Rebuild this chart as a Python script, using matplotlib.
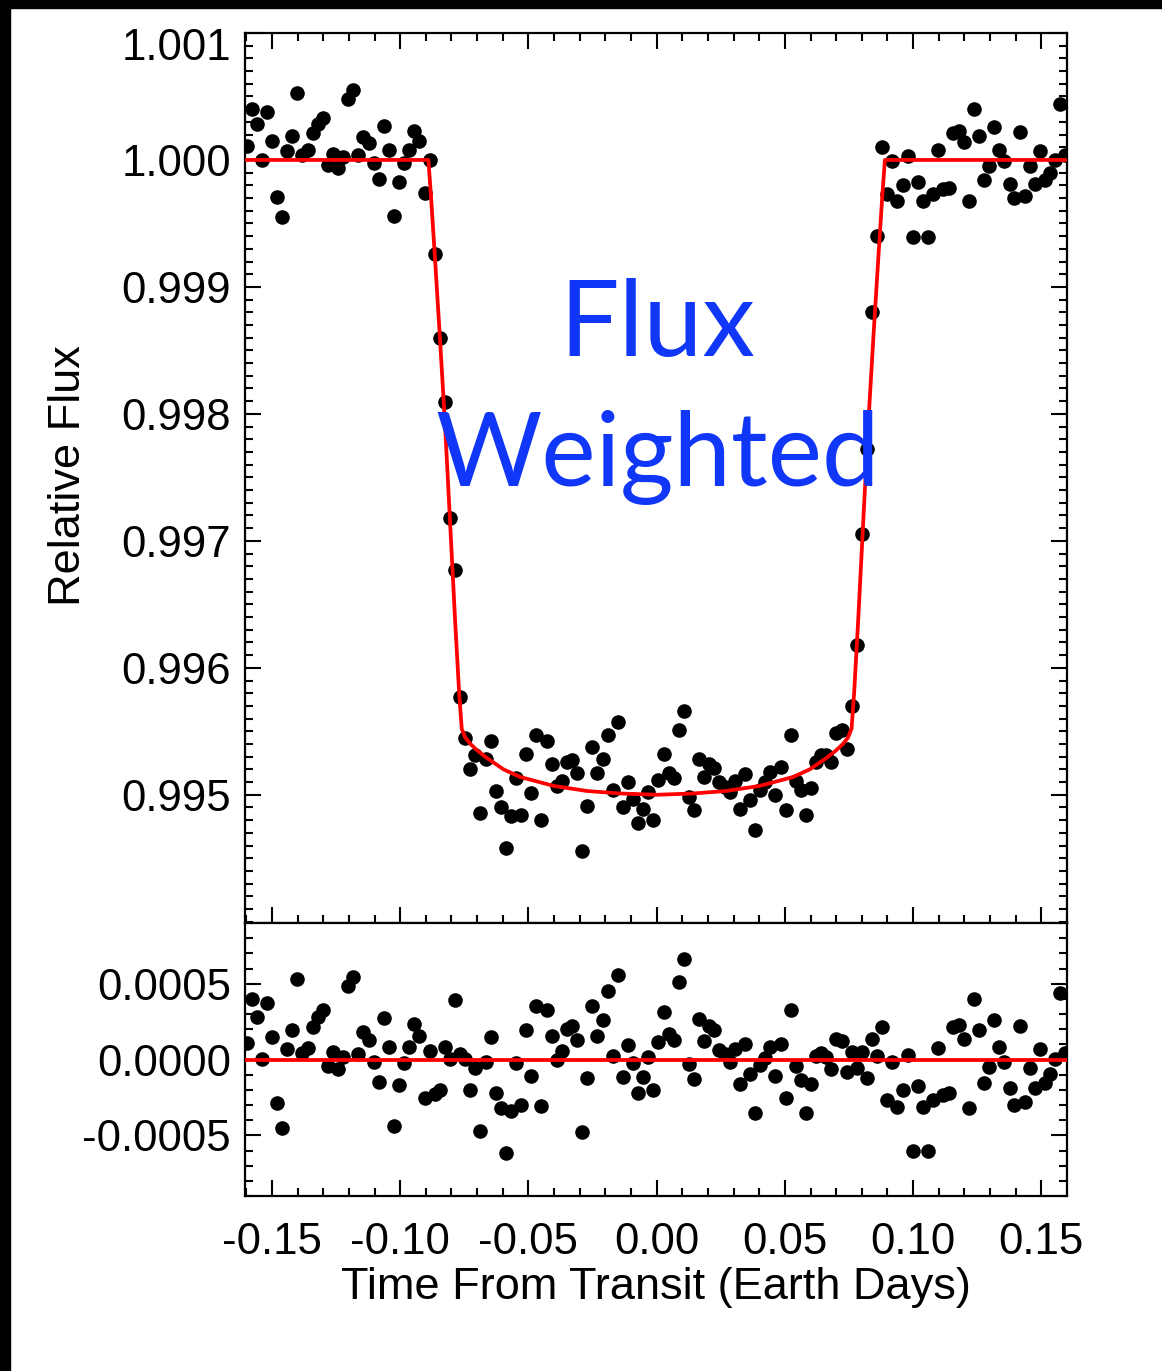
import matplotlib
matplotlib.use("Agg")
import matplotlib.pyplot as plt
import matplotlib.transforms as mtransforms
from matplotlib.patches import Rectangle
from matplotlib.ticker import MultipleLocator, FixedLocator, FixedFormatter
import numpy as np

# time from mid transit (days), one value per binned point
time = [
    -0.1599, -0.1579, -0.1559, -0.1540, -0.1520, -0.1500, -0.1480, -0.1460, -0.1440, -0.1421,
    -0.1401, -0.1381, -0.1361, -0.1341, -0.1321, -0.1302, -0.1282, -0.1262, -0.1242, -0.1222,
    -0.1202, -0.1183, -0.1163, -0.1143, -0.1123, -0.1103, -0.1083, -0.1064, -0.1044, -0.1024,
    -0.1004, -0.0984, -0.0964, -0.0945, -0.0925, -0.0905, -0.0885, -0.0865, -0.0845, -0.0826,
    -0.0806, -0.0786, -0.0766, -0.0746, -0.0726, -0.0707, -0.0687, -0.0667, -0.0647, -0.0627,
    -0.0608, -0.0588, -0.0568, -0.0548, -0.0528, -0.0508, -0.0489, -0.0469, -0.0449, -0.0429,
    -0.0409, -0.0389, -0.0370, -0.0350, -0.0330, -0.0310, -0.0290, -0.0270, -0.0251, -0.0231,
    -0.0211, -0.0191, -0.0171, -0.0151, -0.0132, -0.0112, -0.0092, -0.0072, -0.0052, -0.0032,
    -0.0013, 0.0007, 0.0027, 0.0047, 0.0067, 0.0087, 0.0106, 0.0126, 0.0146, 0.0166,
    0.0186, 0.0206, 0.0225, 0.0245, 0.0265, 0.0285, 0.0305, 0.0324, 0.0344, 0.0364,
    0.0384, 0.0404, 0.0424, 0.0443, 0.0463, 0.0483, 0.0503, 0.0523, 0.0543, 0.0562,
    0.0582, 0.0602, 0.0622, 0.0642, 0.0662, 0.0681, 0.0701, 0.0721, 0.0741, 0.0761,
    0.0780, 0.0800, 0.0820, 0.0840, 0.0860, 0.0880, 0.0900, 0.0919, 0.0939, 0.0959,
    0.0979, 0.0999, 0.1019, 0.1038, 0.1058, 0.1078, 0.1098, 0.1118, 0.1138, 0.1157,
    0.1177, 0.1197, 0.1217, 0.1237, 0.1257, 0.1276, 0.1296, 0.1316, 0.1336, 0.1356,
    0.1376, 0.1395, 0.1415, 0.1435, 0.1455, 0.1475, 0.1495, 0.1514, 0.1534, 0.1554,
    0.1574, 0.1594,
]

# relative flux of each point (top panel)
flux = [
    1.00011, 1.00040, 1.00028, 1.00000, 1.00038, 1.00015, 0.99971, 0.99955, 1.00007, 1.00019,
    1.00053, 1.00004, 1.00008, 1.00021, 1.00028, 1.00033, 0.99996, 1.00005, 0.99994, 1.00002,
    1.00048, 1.00055, 1.00004, 1.00018, 1.00013, 0.99998, 0.99985, 1.00027, 1.00008, 0.99956,
    0.99983, 0.99998, 1.00008, 1.00023, 1.00015, 0.99974, 1.00000, 0.99926, 0.99860, 0.99809,
    0.99718, 0.99677, 0.99577, 0.99545, 0.99520, 0.99531, 0.99486, 0.99528, 0.99542, 0.99503,
    0.99490, 0.99458, 0.99483, 0.99513, 0.99484, 0.99532, 0.99501, 0.99547, 0.99480, 0.99542,
    0.99524, 0.99507, 0.99511, 0.99526, 0.99527, 0.99517, 0.99456, 0.99491, 0.99538, 0.99517,
    0.99528, 0.99547, 0.99504, 0.99557, 0.99490, 0.99510, 0.99497, 0.99478, 0.99489, 0.99502,
    0.99480, 0.99512, 0.99532, 0.99517, 0.99513, 0.99551, 0.99566, 0.99498, 0.99488, 0.99528,
    0.99514, 0.99524, 0.99521, 0.99510, 0.99506, 0.99502, 0.99511, 0.99489, 0.99516, 0.99496,
    0.99472, 0.99504, 0.99510, 0.99518, 0.99500, 0.99522, 0.99488, 0.99547, 0.99511, 0.99504,
    0.99484, 0.99505, 0.99526, 0.99531, 0.99531, 0.99526, 0.99549, 0.99551, 0.99536, 0.99570,
    0.99618, 0.99705, 0.99772, 0.99880, 0.99940, 1.00010, 0.99973, 0.99999, 0.99968, 0.99980,
    1.00003, 0.99939, 0.99983, 0.99968, 0.99939, 0.99973, 1.00008, 0.99977, 0.99978, 1.00021,
    1.00023, 1.00014, 0.99968, 1.00040, 1.00019, 0.99984, 0.99995, 1.00026, 1.00008, 0.99999,
    0.99981, 0.99970, 1.00022, 0.99972, 0.99995, 0.99981, 1.00007, 0.99984, 0.99990, 1.00000,
    1.00044, 1.00004,
]

# residuals (data - model), in units of 1e-4
resid_e4 = [
    1.09, 3.97, 2.79, 0.04, 3.75, 1.46, -2.90, -4.51, 0.70, 1.92,
    5.34, 0.44, 0.76, 2.11, 2.83, 3.27, -0.44, 0.50, -0.65, 0.15,
    4.84, 5.45, 0.39, 1.79, 1.31, -0.17, -1.48, 2.72, 0.83, -4.36,
    -1.70, -0.22, 0.83, 2.33, 1.53, -2.57, 0.59, -2.29, -2.00, 0.83,
    0.04, 3.92, 0.33, 0.04, -2.00, -0.54, -4.73, -0.17, 1.46, -2.22,
    -3.20, -6.14, -3.38, -0.22, -2.98, 1.92, -1.09, 3.55, -3.05, 3.27,
    1.57, -0.04, 0.54, 2.03, 2.22, 1.31, -4.79, -1.20, 3.53, 1.53,
    2.61, 4.51, 0.26, 5.60, -1.13, 0.98, -0.26, -2.24, -1.15, 0.17,
    -2.00, 1.15, 3.16, 1.68, 1.26, 5.12, 6.64, -0.28, -1.26, 2.66,
    1.24, 2.22, 1.92, 0.65, 0.33, -0.15, 0.70, -1.63, 1.05, -0.98,
    -3.55, -0.39, 0.11, 0.83, -1.09, 1.05, -2.51, 3.27, -0.44, -1.35,
    -3.55, -1.59, 0.22, 0.44, 0.17, -0.65, 1.37, 1.20, -0.81, 0.48,
    -0.54, 0.48, -1.24, 1.35, 0.26, 2.14, -2.66, -0.15, -3.16, -2.03,
    0.28, -6.06, -1.74, -3.16, -6.06, -2.68, 0.76, -2.33, -2.18, 2.14,
    2.29, 1.35, -3.22, 3.99, 1.92, -1.57, -0.48, 2.61, 0.83, -0.15,
    -1.90, -2.98, 2.22, -2.83, -0.54, -1.90, 0.72, -1.57, -0.98, 0.04,
    4.40, 0.44,
]

# transit model curve (red)
model_time = [
    -0.1605, -0.0890, -0.0880, -0.0865, -0.0845, -0.0826, -0.0806, -0.0786, -0.0770, -0.0760,
    -0.0746, -0.0726, -0.0700, -0.0662, -0.0597, -0.0532, -0.0402, -0.0272, -0.0142, 0.0000,
    0.0142, 0.0272, 0.0402, 0.0532, 0.0597, 0.0662, 0.0700, 0.0726, 0.0746, 0.0760,
    0.0770, 0.0786, 0.0806, 0.0826, 0.0845, 0.0865, 0.0880, 0.0890, 0.1600,
]
model_flux = [
    1.00000, 1.00000, 0.99972, 0.99925, 0.99860, 0.99795, 0.99717, 0.99638, 0.99580, 0.99552,
    0.99545, 0.99540, 0.99535, 0.99529, 0.99520, 0.99514, 0.99507, 0.99503, 0.99501, 0.99500,
    0.99501, 0.99503, 0.99507, 0.99514, 0.99520, 0.99529, 0.99535, 0.99540, 0.99545, 0.99552,
    0.99580, 0.99638, 0.99717, 0.99795, 0.99860, 0.99925, 0.99972, 1.00000, 1.00000,
]

x_ticks = [-0.15, -0.10, -0.05, 0.00, 0.05, 0.10, 0.15]
x_labels = ["-0.15", "-0.10", "-0.05", "0.00", "0.05", "0.10", "0.15"]
flux_ticks = [0.995, 0.996, 0.997, 0.998, 0.999, 1.000, 1.001]
flux_labels = ["0.995", "0.996", "0.997", "0.998", "0.999", "1.000", "1.001"]
resid_ticks = [-0.0005, 0.0, 0.0005]
resid_labels = ["-0.0005", "0.0000", "0.0005"]

plt.rcParams["font.family"] = ["Liberation Sans", "DejaVu Sans"]

W, H = 1162, 1371
fig = plt.figure(figsize=(W / 100, H / 100), dpi=100)
fig.patch.set_facecolor("white")

# black strips on the left and top edge of the original screenshot
fig.patches.append(Rectangle((0, 0), 10 / W, 1, transform=fig.transFigure, color="black", zorder=5))
fig.patches.append(Rectangle((0, 1 - 8 / H), 1, 8 / H, transform=fig.transFigure, color="black", zorder=5))

ax1 = fig.add_axes([245 / W, 1 - 923 / H, 822 / W, 890 / H])
ax2 = fig.add_axes([245 / W, 1 - 1196 / H, 822 / W, 273 / H])

xlim = (-0.1605, 0.1600)


def style_axis(ax, top):
    for s in ax.spines.values():
        s.set_linewidth(1.6)
    ax.xaxis.set_major_locator(FixedLocator(x_ticks))
    ax.xaxis.set_minor_locator(MultipleLocator(0.01))
    ax.yaxis.set_minor_locator(MultipleLocator(0.0001))
    ax.tick_params(which="both", direction="in", top=top, right=True, width=1.5)
    ax.tick_params(which="major", length=11.5)
    ax.tick_params(which="minor", length=5.5)
    ax.tick_params(axis="y", labelsize=31.5, pad=10)


# top panel: light curve
ax1.plot(time, flux, "o", color="black", ms=10.5, mec="none", zorder=2)
ax1.plot(model_time, model_flux, color="red", lw=2.7, zorder=3)
ax1.set_xlim(*xlim)
ax1.set_ylim(0.99399, 1.001)
style_axis(ax1, True)
ax1.yaxis.set_major_locator(FixedLocator(flux_ticks))
ax1.yaxis.set_major_formatter(FixedFormatter(flux_labels))
ax1.tick_params(axis="x", labelbottom=False)
# top label sits a little lower than its tick in the original
fig.canvas.draw()
lab = ax1.get_yticklabels()[-1]
lab.set_transform(lab.get_transform() + mtransforms.ScaledTranslation(0, -11 / 100, fig.dpi_scale_trans))

ax1.text(0.502, 0.637, "Flux", transform=ax1.transAxes, ha="center", va="baseline",
         fontsize=76, color="#1036f7", family=["Lato", "DejaVu Sans"])
ax1.text(0.502, 0.491, "Weighted", transform=ax1.transAxes, ha="center", va="baseline",
         fontsize=74, color="#1036f7", family=["Lato", "DejaVu Sans"])

# bottom panel: residuals
ax2.plot(time, np.array(resid_e4) * 1e-4, "o", color="black", ms=10.5, mec="none", zorder=2)
ax2.axhline(0.0, color="red", lw=2.7, zorder=3)
ax2.set_xlim(*xlim)
ax2.set_ylim(-0.0009, 0.0009)
style_axis(ax2, False)
ax2.yaxis.set_major_locator(FixedLocator(resid_ticks))
ax2.yaxis.set_major_formatter(FixedFormatter(resid_labels))
ax2.xaxis.set_major_formatter(FixedFormatter(x_labels))
ax2.tick_params(axis="x", labelsize=31.5, pad=19)

fig.text(68 / W, 1 - 476 / H, "Relative Flux", rotation=90, ha="center", va="center", fontsize=32.5)
fig.text(656 / W, 1 - 1288 / H, "Time From Transit (Earth Days)", ha="center", va="center", fontsize=32.5)

fig.savefig("out.png", dpi=100)
